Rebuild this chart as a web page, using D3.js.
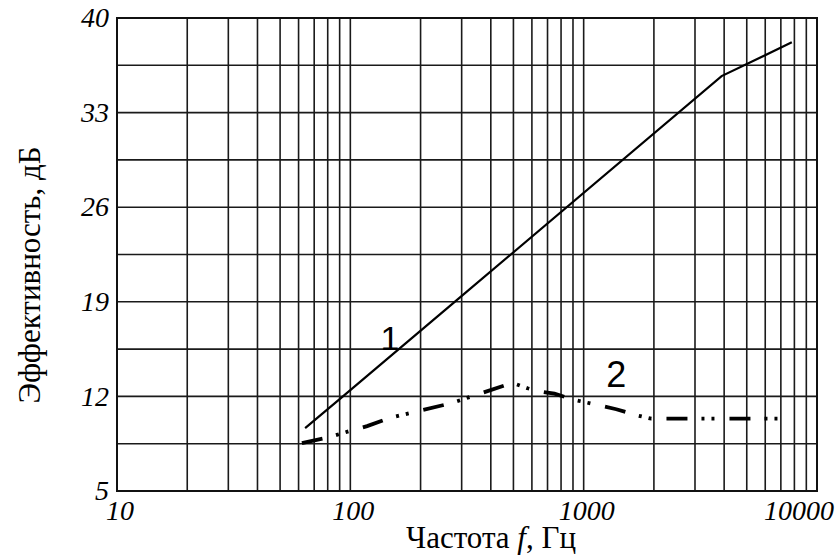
<!DOCTYPE html>
<html>
  <head>
    <meta charset="utf-8">
    <title>Эффективность</title>
    <style type="text/css">
      body { margin: 0; background: #fff; }
      .chart { width: 838px; height: 557px; display: block; }
    </style>
    <script src="https://d3js.org/d3.v7.min.js"></script>
  </head>
  <body>
    <svg class="chart"></svg>
    <script>

// data
var xTicks = [10, 100, 1000, 10000];
var yTicks = [5, 12, 19, 26, 33, 40];

var freq1 = [64, 90, 285, 3900, 7800];
var eff1  = [9.65, 11.8, 19.1, 35.7, 38.2];

var freq2 = [62, 80, 100, 118, 147, 271, 495, 575, 632, 750, 910, 1380, 1690, 1950, 4000, 7800];
var eff2  = [8.55, 8.95, 9.45, 9.8, 10.4, 11.5, 13.0, 12.6, 12.4, 12.2, 11.75, 11.05, 10.6, 10.35, 10.35, 10.35];

var seriesLabels = ["1", "2"];

var margin = {top: 18, right: 21, bottom: 66, left: 117},
    width = 838 - margin.left - margin.right,
    height = 557 - margin.top - margin.bottom;

var serif = "'Liberation Serif', 'Times New Roman', serif";

var svg = d3.select(".chart")
    .attr("width", 838)
    .attr("height", 557)
  .append("g")
    .attr("transform", "translate(" + margin.left + "," + margin.top + ")");

var x = d3.scaleLog()
  .domain([10, 10000])
  .range([0, width]);

var y = d3.scaleLinear()
  .domain([5, 40])
  .range([height, 0]);

// vertical grid: every 1..9 x decade
var vgrid = x.ticks().filter(function(d) { return d > 10 && d < 10000; });
svg.selectAll(".vg")
  .data(vgrid)
  .enter().append("line")
    .attr("x1", function(d) { return x(d); })
    .attr("x2", function(d) { return x(d); })
    .attr("y1", 0)
    .attr("y2", height)
    .attr("stroke", "#1a1a1a")
    .attr("stroke-width", 1.6);

// horizontal grid: ticks plus the half steps
var hgrid = d3.range(8.5, 40, 3.5);
svg.selectAll(".hg")
  .data(hgrid)
  .enter().append("line")
    .attr("x1", 0)
    .attr("x2", width)
    .attr("y1", function(d) { return y(d); })
    .attr("y2", function(d) { return y(d); })
    .attr("stroke", "#1a1a1a")
    .attr("stroke-width", 1.6);

// frame
svg.append("rect")
  .attr("width", width)
  .attr("height", height)
  .attr("fill", "none")
  .attr("stroke", "#111")
  .attr("stroke-width", 2);

// tick labels
svg.selectAll(".yl")
  .data(yTicks)
  .enter().append("text")
    .attr("x", -8)
    .attr("y", function(d) { return y(d); })
    .attr("dy", "0.33em")
    .attr("text-anchor", "end")
    .style("font-family", serif)
    .style("font-style", "italic")
    .style("font-size", "28px")
    .text(function(d) { return d; });

svg.selectAll(".xl")
  .data(xTicks)
  .enter().append("text")
    .attr("x", function(d, i) { return i == xTicks.length - 1 ? width + 17 : x(d) + 3; })
    .attr("y", height + 29)
    .attr("text-anchor", function(d, i) { return i == xTicks.length - 1 ? "end" : "middle"; })
    .style("font-family", serif)
    .style("font-style", "italic")
    .style("font-size", "28px")
    .text(function(d) { return d; });

// axis titles
var xt = svg.append("text")
  .attr("x", 374)
  .attr("y", height + 57)
  .attr("text-anchor", "middle")
  .style("font-family", serif)
  .style("font-size", "31px");
xt.append("tspan").text("Частота ");
xt.append("tspan").style("font-style", "italic").text("f");
xt.append("tspan").text(", Гц");

svg.append("text")
  .attr("transform", "translate(" + (-77) + "," + (275 - margin.top) + ") rotate(-90)")
  .attr("text-anchor", "middle")
  .style("font-family", serif)
  .style("font-size", "31px")
  .text("Эффективность, дБ");

var line = d3.line()
  .x(function(d) { return x(d[0]); })
  .y(function(d) { return y(d[1]); });

svg.append("path")
  .datum(d3.zip(freq1, eff1))
  .attr("fill", "none")
  .attr("stroke", "#000")
  .attr("stroke-width", 2.2)
  .attr("d", line);

svg.append("path")
  .datum(d3.zip(freq2, eff2))
  .attr("fill", "none")
  .attr("stroke", "#000")
  .attr("stroke-width", 3.8)
  .attr("stroke-dasharray", "21,14,3,7,3,15")
  .attr("d", line);

// curve numbers
svg.append("text")
  .attr("x", x(148))
  .attr("y", y(15.4))
  .attr("text-anchor", "middle")
  .style("font-family", "'Liberation Sans', Arial, sans-serif")
  .style("font-size", "34px")
  .text(seriesLabels[0]);

svg.append("text")
  .attr("x", x(1380))
  .attr("y", y(12.7))
  .attr("text-anchor", "middle")
  .style("font-family", "'Liberation Sans', Arial, sans-serif")
  .style("font-size", "36px")
  .text(seriesLabels[1]);

</script>
  </body>
</html>
